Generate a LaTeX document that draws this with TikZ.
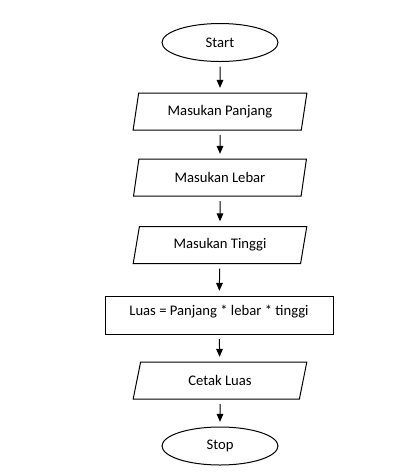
\documentclass[tikz,border=0pt]{standalone}
\usepackage{fontspec}
\setmainfont{Carlito}
\usepackage{tikz}
\usepackage{xcolor}
\usetikzlibrary{shapes.geometric,arrows.meta}

\begin{document}
\begin{tikzpicture}[x=0.75pt,y=0.75pt,yscale=-1,xscale=1,
  font=\fontsize{11}{13}\selectfont,
  terminal/.style={draw,line width=0.75,ellipse,minimum width=87pt,minimum height=28.5pt,inner sep=0.75pt},
  inout/.style={draw,line width=0.75,trapezium,trapezium left angle=76,trapezium right angle=104,trapezium stretches=true,minimum width=130.5pt,minimum height=27.75pt,inner sep=0.75pt},
  process/.style={draw,line width=0.75,rectangle,minimum width=171pt,minimum height=28.5pt,inner sep=0.75pt,text height=9pt,text depth=9pt},
  flow/.style={line width=0.75,-{Triangle[width=5pt,length=6pt]},shorten <=3.5pt,shorten >=3.5pt}]
%set diagram to the size of the reference
\useasboundingbox (0,0) rectangle (420,476);

%Shape: Ellipse [id:start]
\draw (220,42.5) node [terminal] (start) {Start};
%Shape: Parallelogram [id:panjang]
\draw (220,111.5) node [inout] (panjang) {Masukan Panjang};
%Shape: Parallelogram [id:lebar]
\draw (220,177.5) node [inout] (lebar) {Masukan Lebar};
%Shape: Parallelogram [id:tinggi]
\draw (220,245) node [inout] (tinggi) {Masukan Tinggi};
%Shape: Rectangle [id:luas]
\draw (219,315) node [process] (luas) {Luas = Panjang * lebar * tinggi};
%Shape: Parallelogram [id:cetak]
\draw (220,380.5) node [inout] (cetak) {Cetak Luas};
%Shape: Ellipse [id:stop]
\draw (220,446) node [terminal] (stop) {Stop};

%Straight Lines
\draw [flow] (start) -- (panjang);
\draw [flow] (panjang) -- (lebar);
\draw [flow] (lebar) -- (tinggi);
\draw [flow] (tinggi) -- (luas);
\draw [flow] (luas) -- (cetak);
\draw [flow] (cetak) -- (stop);

\end{tikzpicture}
\end{document}
